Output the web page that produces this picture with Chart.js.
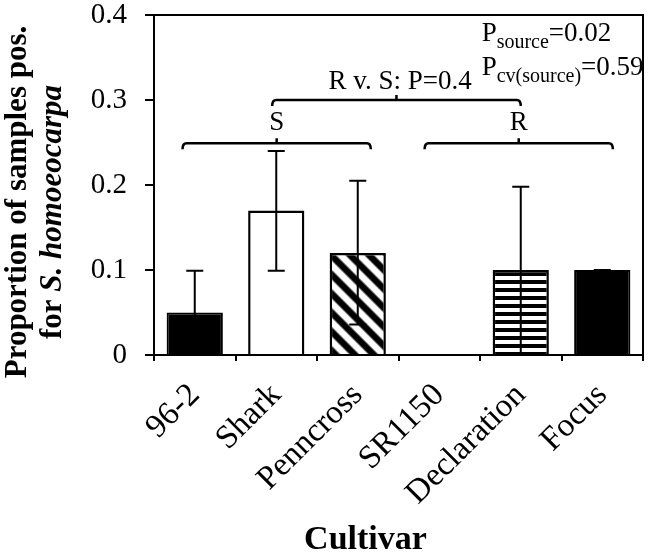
<!DOCTYPE html>
<html><head><meta charset="utf-8">
<script src="https://cdn.jsdelivr.net/npm/chart.js@4/dist/chart.umd.min.js"></script>
<style>html,body{margin:0;padding:0;background:#fff}</style>
</head><body>
<canvas id="c" width="650" height="556"></canvas>
<script>
// ---- data ----
const categories = ['96-2', 'Shark', 'Penncross', 'SR1150', 'Declaration', 'Focus'];
const proportions = [0.05, 0.17, 0.12, 0.0, 0.10, 0.10];
const errLow  = [0.0, 0.099, 0.036, 0.0, 0.001, 0.10];
const errHigh = [0.099, 0.240, 0.205, 0.0, 0.198, 0.10];
const yTickValues = [0, 0.1, 0.2, 0.3, 0.4];
const groupLabels = ['S', 'R'];
const comparisonText = 'R v. S: P=0.4';
const pSource = '0.02';
const pCvSource = '0.59';

// ---- styles / layout ----
const SERIF = '"Liberation Serif", "Times New Roman", serif';

function makeDiagPattern() {
  const n = 19, cv = document.createElement('canvas');
  cv.width = n; cv.height = n;
  const g = cv.getContext('2d'), img = g.createImageData(n, n);
  for (let y = 0; y < n; y++) for (let x = 0; x < n; x++) {
    const t = (((x - y) % n) + n) % n / n;
    let v = 0.5 + 0.5 * Math.cos(2 * Math.PI * t);
    v = Math.min(1, Math.max(0, (v - 0.5) * 2.2 + 0.5));
    const c = Math.round(255 * (1 - v));
    const i = (y * n + x) * 4;
    img.data[i] = img.data[i+1] = img.data[i+2] = c; img.data[i+3] = 255;
  }
  g.putImageData(img, 0, 0);
  return g.createPattern(cv, 'repeat');
}
function makeHorizPattern() {
  const cv = document.createElement('canvas');
  cv.width = 4; cv.height = 8;
  const g = cv.getContext('2d');
  g.fillStyle = '#fff'; g.fillRect(0, 0, 4, 8);
  g.fillStyle = '#000'; g.fillRect(0, 0, 4, 4);
  return g.createPattern(cv, 'repeat');
}

const annot = {
  brackets: [
    { from: -0.15, to: 2.16, y: 0.249, label: 0, labelY: 0.265 },
    { from: 2.82, to: 5.13, y: 0.249, label: 1, labelY: 0.265 },
    { from: 0.95, to: 4.0, y: 0.30 }
  ],
  compare: { x: 2.52, y: 0.313 },
  pLines: { x: 3.52, y1: 0.369, y2: 0.329 }
};

const framePlugin = {
  id: 'frame',
  afterDraw(chart) {
    const { ctx, chartArea: a } = chart;
    ctx.save();
    ctx.strokeStyle = '#000'; ctx.lineWidth = 2;
    ctx.strokeRect(a.left, a.top, a.right - a.left, a.bottom - a.top);
    ctx.restore();
  }
};

const errorPlugin = {
  id: 'errbars',
  afterDatasetsDraw(chart) {
    const { ctx } = chart;
    const meta = chart.getDatasetMeta(0);
    const ys = chart.scales.y;
    ctx.save();
    ctx.strokeStyle = '#000'; ctx.lineWidth = 2;
    meta.data.forEach((bar, i) => {
      const x = bar.x, y1 = ys.getPixelForValue(errLow[i]), y2 = ys.getPixelForValue(errHigh[i]);
      const cw = 8.5;
      ctx.strokeStyle = (errLow[i] === errHigh[i] && proportions[i] === 0) ? '#aaa' : '#000';
      ctx.beginPath();
      ctx.moveTo(x, y1); ctx.lineTo(x, y2);
      ctx.moveTo(x - cw, y2); ctx.lineTo(x + cw, y2);
      ctx.moveTo(x - cw, y1); ctx.lineTo(x + cw, y1);
      ctx.stroke();
    });
    ctx.restore();
  }
};

const annotPlugin = {
  id: 'annot',
  afterDraw(chart) {
    const { ctx } = chart;
    const xs = chart.scales.x, ys = chart.scales.y;
    ctx.save();
    ctx.strokeStyle = '#000'; ctx.fillStyle = '#000';
    ctx.lineWidth = 2.5; ctx.lineJoin = 'round';
    annot.brackets.forEach(b => {
      const x1 = xs.getPixelForValue(b.from), x2 = xs.getPixelForValue(b.to);
      const y = ys.getPixelForValue(b.y), xc = (x1 + x2) / 2;
      ctx.beginPath();
      ctx.moveTo(x1, y + 6); ctx.quadraticCurveTo(x1, y, x1 + 4, y);
      ctx.lineTo(x2 - 4, y); ctx.quadraticCurveTo(x2, y, x2, y + 6);
      ctx.moveTo(xc, y); ctx.lineTo(xc, y - 5);
      ctx.stroke();
      if (b.label !== undefined) {
        ctx.font = '27px ' + SERIF;
        ctx.textAlign = 'center'; ctx.textBaseline = 'alphabetic';
        ctx.fillText(groupLabels[b.label], xc, ys.getPixelForValue(b.labelY));
      }
    });
    ctx.font = '27px ' + SERIF;
    ctx.textAlign = 'center'; ctx.textBaseline = 'alphabetic';
    ctx.fillText(comparisonText, xs.getPixelForValue(annot.compare.x), ys.getPixelForValue(annot.compare.y));

    function pLine(sub, val, yv) {
      let x = xs.getPixelForValue(annot.pLines.x);
      const y = ys.getPixelForValue(yv);
      ctx.textAlign = 'left';
      ctx.font = '27px ' + SERIF; ctx.fillText('P', x, y); x += ctx.measureText('P').width;
      ctx.font = '20px ' + SERIF; ctx.fillText(sub, x, y + 7); x += ctx.measureText(sub).width;
      ctx.font = '27px ' + SERIF; ctx.fillText('=' + val, x, y);
    }
    pLine('source', pSource, annot.pLines.y1);
    pLine('cv(source)', pCvSource, annot.pLines.y2);

    // axis titles
    const a = chart.chartArea;
    ctx.textAlign = 'center';
    ctx.font = 'bold 34px ' + SERIF;
    ctx.fillText('Cultivar', (a.left + a.right) / 2 - 33, chart.height - 7);

    ctx.save();
    ctx.rotate(-Math.PI / 2);
    ctx.font = 'bold 31px ' + SERIF;
    ctx.fillText('Proportion of samples pos.', -202, 26);
    const p1 = 'for ', p2 = 'S. homoeocarpa';
    ctx.font = 'bold 31px ' + SERIF; const w1 = ctx.measureText(p1).width;
    ctx.font = 'italic bold 31px ' + SERIF; const w2 = ctx.measureText(p2).width;
    let sx = -212 - (w1 + w2) / 2;
    ctx.textAlign = 'left';
    ctx.font = 'bold 31px ' + SERIF; ctx.fillText(p1, sx, 61);
    ctx.font = 'italic bold 31px ' + SERIF; ctx.fillText(p2, sx + w1, 61);
    ctx.restore();
    ctx.restore();
  }
};

new Chart(document.getElementById('c'), {
  type: 'bar',
  data: {
    labels: categories,
    datasets: [{
      data: proportions,
      backgroundColor: ['#000', '#fff', makeDiagPattern(), '#fff', makeHorizPattern(), '#000'],
      borderColor: '#000',
      borderWidth: [2, 2.5, 2.5, 0, 2.5, 2],
      barPercentage: 0.69,
      categoryPercentage: 1.0
    }]
  },
  options: {
    responsive: false,
    animation: false,
    layout: { padding: { top: 15, right: 7, left: 0, bottom: 0 } },
    plugins: { legend: { display: false }, tooltip: { enabled: false } },
    scales: {
      x: {
        offset: true,
        grid: { display: true, drawOnChartArea: false, drawTicks: true, tickLength: 6, offset: true, color: '#000', lineWidth: 2 },
        border: { display: true, color: '#000', width: 2 },
        ticks: {
          color: '#000', font: { family: SERIF, size: 33 },
          minRotation: 45, maxRotation: 45, padding: 15, autoSkip: false
        },
        afterFit(s) { s.height = 201; s.paddingLeft = 0; s.paddingRight = 0; s.paddingTop = 0; s.paddingBottom = 0; }
      },
      y: {
        min: 0, max: 0.4,
        afterBuildTicks(s) { s.ticks = yTickValues.map(v => ({ value: v })); },
        grid: { display: true, drawOnChartArea: false, drawTicks: true, tickLength: 9, color: '#000', lineWidth: 2 },
        border: { display: true, color: '#000', width: 2 },
        ticks: {
          color: '#000', font: { family: SERIF, size: 29, lineHeight: 1 }, padding: 18,
          callback: v => String(v)
        },
        afterFit(s) { s.width = 154; s.paddingTop = 0; s.paddingBottom = 0; s.paddingLeft = 0; s.paddingRight = 0; }
      }
    }
  },
  plugins: [errorPlugin, framePlugin, annotPlugin]
});
</script>
</body></html>
